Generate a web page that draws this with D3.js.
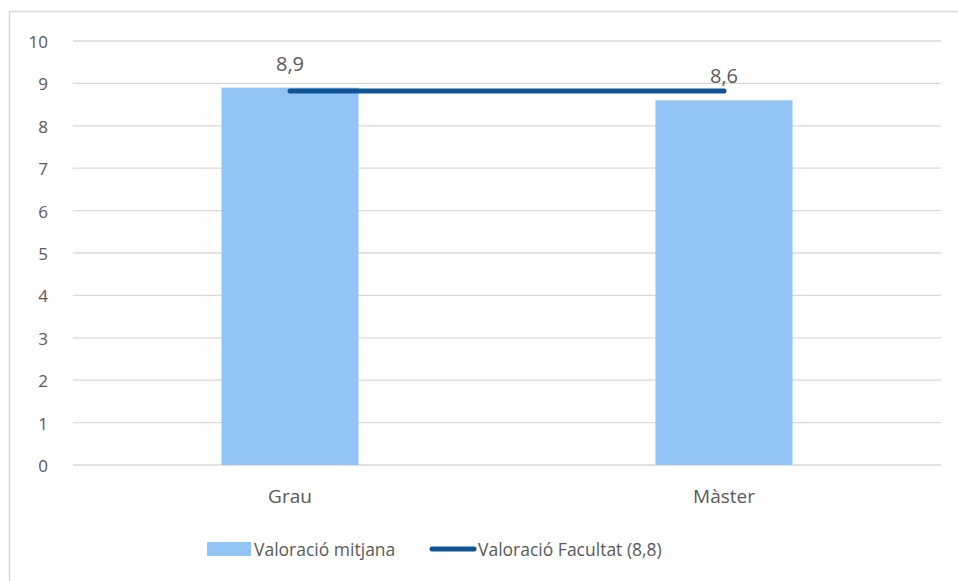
<!DOCTYPE html>
<html>
<head>
<meta charset="utf-8">
<script src="https://cdn.jsdelivr.net/npm/d3@7"></script>
<style>
  body { margin: 0; background: #fff; }
  text { font-family: "Open Sans", "Noto Sans", sans-serif; fill: #595959; }
</style>
</head>
<body>
<svg id="chart" width="958" height="581"></svg>
<script>
const categories = ["Grau", "Màster"];
const averageValues = [8.9, 8.6];
const facultyValue = 8.8;
const yTicks = [0, 1, 2, 3, 4, 5, 6, 7, 8, 9, 10];
const legendLabels = ["Valoració mitjana", "Valoració Facultat (8,8)"];

const svg = d3.select("#chart");

// outer frame, only the top and left edges fall inside the picture
svg.append("rect")
    .attr("x", 9.5).attr("y", 11.5)
    .attr("width", 1000).attr("height", 1000)
    .attr("fill", "none")
    .attr("stroke", "#d9d9d9")
    .attr("stroke-width", 1.5);

const plotLeft = 73, plotRight = 941, plotTop = 41, plotBottom = 465;

const x = d3.scaleBand().domain(categories).range([plotLeft, plotRight]).paddingInner(0.684).paddingOuter(0.342);
const y = d3.scaleLinear().domain([0, 10]).range([plotBottom, plotTop]);

const fmt = (v) => v.toFixed(1).replace(".", ",");

// gridlines
svg.append("g")
    .selectAll("line")
    .data(yTicks)
    .enter()
    .append("line")
    .attr("x1", plotLeft).attr("x2", plotRight)
    .attr("y1", (d) => y(d)).attr("y2", (d) => y(d))
    .attr("stroke", "#d9d9d9")
    .attr("stroke-width", 1.3);

// y axis labels
const yAxis = d3.axisLeft(y).tickValues(yTicks).tickSize(0).tickPadding(0);
const yg = svg.append("g").attr("transform", "translate(48,1)").call(yAxis);
yg.select(".domain").remove();
yg.selectAll("text").style("font-size", "17px").attr("fill", "#595959").attr("font-family", null);

// bars
svg.append("g")
    .selectAll("rect")
    .data(averageValues)
    .enter()
    .append("rect")
    .attr("x", (d, i) => x(categories[i]))
    .attr("y", (d) => y(d))
    .attr("width", x.bandwidth())
    .attr("height", (d) => plotBottom - y(d))
    .attr("fill", "#92c5f5");

// faculty line
const line = d3.line()
    .x((d) => x(d) + x.bandwidth() / 2)
    .y(() => y(facultyValue) - 1);

svg.append("path")
    .datum(categories)
    .attr("d", line)
    .attr("fill", "none")
    .attr("stroke", "#0e5496")
    .attr("stroke-width", 5)
    .attr("stroke-linecap", "round");

// value labels
svg.append("g")
    .selectAll("text")
    .data(averageValues)
    .enter()
    .append("text")
    .attr("x", (d, i) => x(categories[i]) + x.bandwidth() / 2)
    .attr("y", (d) => y(d) - 17)
    .attr("text-anchor", "middle")
    .style("font-size", "20px")
    .attr("fill", "#404040")
    .text((d) => fmt(d));

// category labels
const xAxis = d3.axisBottom(x).tickSize(0).tickPadding(0);
const xg = svg.append("g").attr("transform", "translate(0,489)").call(xAxis);
xg.select(".domain").remove();
xg.selectAll("text").style("font-size", "19px").attr("fill", "#595959").attr("font-family", null);

// legend
const legend = svg.append("g");
legend.append("rect")
    .attr("x", 207).attr("y", 542)
    .attr("width", 44).attr("height", 14)
    .attr("fill", "#92c5f5");
legend.append("text")
    .attr("x", 254).attr("y", 556)
    .style("font-size", "17.5px")
    .text(legendLabels[0]);
legend.append("line")
    .attr("x1", 432).attr("x2", 474)
    .attr("y1", 549).attr("y2", 549)
    .attr("stroke", "#0e5496")
    .attr("stroke-width", 5)
    .attr("stroke-linecap", "round");
legend.append("text")
    .attr("x", 478).attr("y", 556)
    .style("font-size", "17.5px")
    .text(legendLabels[1]);
</script>
</body>
</html>
